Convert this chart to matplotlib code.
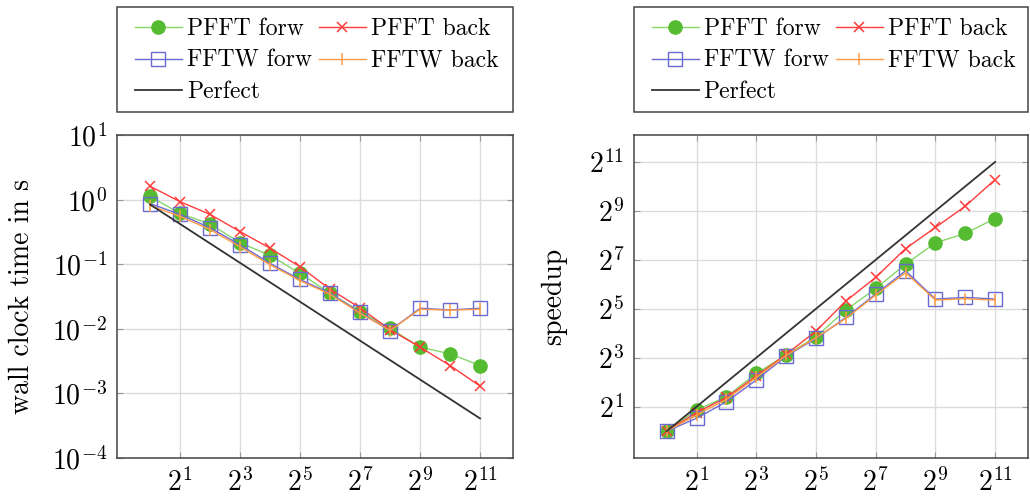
#!/usr/bin/env python3
# wall clock time and speedup of PFFT vs FFTW, two panels side by side

import matplotlib
matplotlib.use('Agg')
import matplotlib.pyplot as plt
from matplotlib.patches import Rectangle
from matplotlib.ticker import LogFormatterSciNotation, NullLocator

plt.rcParams['font.family'] = ['cmr10', 'DejaVu Serif']
plt.rcParams['mathtext.fontset'] = 'cm'
plt.rcParams['axes.formatter.use_mathtext'] = True

procs = [1, 2, 4, 8, 16, 32, 64, 128, 256, 512, 1024, 2048]

time_pfft_forw = [1.12, 0.61, 0.42, 0.215, 0.137, 0.072, 0.0355, 0.0185,
                  0.0102, 0.0052, 0.0041, 0.0027]
time_pfft_back = [1.61, 0.93, 0.59, 0.32, 0.177, 0.0915, 0.041, 0.0211,
                  0.0097, 0.0052, 0.0027, 0.0013]
time_fftw_forw = [0.87, 0.59, 0.366, 0.2, 0.103, 0.058, 0.0355, 0.0179,
                  0.0094, 0.0208, 0.0196, 0.0208]
time_fftw_back = [0.81, 0.55, 0.344, 0.186, 0.098, 0.0557, 0.0343, 0.0175,
                  0.0094, 0.0201, 0.0194, 0.0201]
time_perfect_x = [1, 2048]
time_perfect_y = [0.84, 0.00041]

speed_pfft_forw = [1, 1.82, 2.65, 5.14, 8.63, 14.5, 30.8, 56.9,
                   113, 207, 270, 412]
speed_pfft_back = [1, 1.69, 2.60, 4.76, 8.79, 17.0, 39.8, 77.7,
                   176, 320, 584, 1243]
speed_fftw_forw = [1, 1.44, 2.30, 4.25, 8.39, 13.8, 25.0, 48.5,
                   93.8, 42.1, 44.1, 42.1]
speed_fftw_back = [1, 1.58, 2.46, 4.59, 8.54, 14.1, 24.3, 47.1,
                   88.6, 40.9, 42.5, 40.9]
speed_perfect_x = [1, 2048]
speed_perfect_y = [1, 2048]

xticks = [2, 8, 32, 128, 512, 2048]
legend_labels = ['PFFT forw', 'FFTW forw', 'Perfect', 'PFFT back', 'FFTW back']

GREEN_LINE = '#86d66a'
GREEN = '#55bb30'
RED = '#ff3c3c'
BLUE = '#6a6ad2'
ORANGE = '#ff9c45'
BLACK = '#333333'
FRAME = '#444444'


def draw(ax, pf, pb, ff, fb, px, py):
    h1, = ax.plot(procs, pf, color=GREEN_LINE, lw=1.0, marker='o', ms=9.5,
                  mfc=GREEN, mec=GREEN)
    h2, = ax.plot(procs, pb, color=RED, lw=1.0, marker='x', ms=7.5, mew=1.1)
    h3, = ax.plot(procs, ff, color=BLUE, lw=1.0, marker='s', ms=9.5,
                  mfc='none', mec=BLUE, mew=1.0)
    h4, = ax.plot(procs, fb, color=ORANGE, lw=1.0, marker='|', ms=9, mew=1.1)
    h5, = ax.plot(px, py, color=BLACK, lw=1.3)

    ax.set_xscale('log', base=2)
    ax.set_xlim(2 ** -1.1, 2 ** 12.1)
    ax.set_xticks(xticks)
    ax.xaxis.set_major_formatter(LogFormatterSciNotation(base=2))
    ax.xaxis.set_minor_locator(NullLocator())

    ax.grid(True, color='#dcdcdc', lw=1.0)
    ax.set_axisbelow(True)
    ax.tick_params(direction='in', length=4, color='#999999',
                   labelsize=20, top=True, right=True, pad=7)
    for s in ax.spines.values():
        s.set_color(FRAME)
        s.set_linewidth(1.1)

    # column-major fill: first column PFFT forw / FFTW forw / Perfect
    ax.legend([h1, h3, h5, h2, h4], legend_labels,
              ncol=2, loc='upper left', bbox_to_anchor=(0.045, 1.362),
              fontsize=17, frameon=False, handlelength=2.0,
              handletextpad=0.2, columnspacing=0.3,
              labelspacing=0.4, borderpad=0, borderaxespad=0)
    # legend box spans the full axes width, as in pgfplots
    ax.add_patch(Rectangle((0, 1.071), 1, 0.325, transform=ax.transAxes,
                           fill=False, ec=FRAME, lw=1.1, clip_on=False))


fig = plt.figure(figsize=(10.3, 4.98), dpi=100)
ax1 = fig.add_axes([0.1136, 0.0803, 0.3845, 0.6486])
ax2 = fig.add_axes([0.6155, 0.0803, 0.3825, 0.6486])

draw(ax1, time_pfft_forw, time_pfft_back, time_fftw_forw, time_fftw_back,
     time_perfect_x, time_perfect_y)
ax1.set_yscale('log')
ax1.set_ylim(1e-4, 1e1)
ax1.set_yticks([1e-4, 1e-3, 1e-2, 1e-1, 1e0, 1e1])
ax1.yaxis.set_minor_locator(NullLocator())
ax1.set_ylabel('wall clock time in s', fontsize=20, labelpad=12)

draw(ax2, speed_pfft_forw, speed_pfft_back, speed_fftw_forw,
     speed_fftw_back, speed_perfect_x, speed_perfect_y)
ax2.set_yscale('log', base=2)
ax2.set_ylim(2 ** -1.1, 2 ** 12.1)
ax2.set_yticks(xticks)
ax2.yaxis.set_major_formatter(LogFormatterSciNotation(base=2))
ax2.yaxis.set_minor_locator(NullLocator())
ax2.set_ylabel('speedup', fontsize=20, labelpad=16)

fig.savefig('out.png', dpi=100)
